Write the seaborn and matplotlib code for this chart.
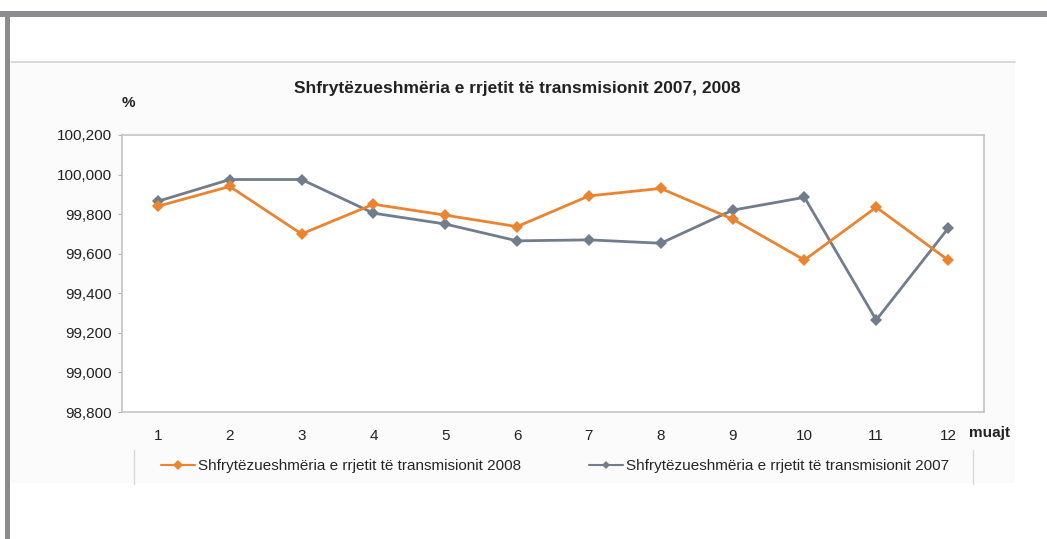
import matplotlib
matplotlib.use("Agg")
import matplotlib.pyplot as plt
import seaborn as sns
import pandas as pd
from matplotlib.patches import Rectangle
from matplotlib.lines import Line2D

months = [1, 2, 3, 4, 5, 6, 7, 8, 9, 10, 11, 12]
avail_2008 = [99.840, 99.940, 99.700, 99.850, 99.795, 99.737, 99.892, 99.930, 99.775, 99.568, 99.835, 99.568]
avail_2007 = [99.865, 99.975, 99.975, 99.805, 99.750, 99.665, 99.670, 99.653, 99.820, 99.885, 99.265, 99.728]
y_ticks = [98.8, 99.0, 99.2, 99.4, 99.6, 99.8, 100.0, 100.2]
y_tick_labels = ["98,800", "99,000", "99,200", "99,400", "99,600", "99,800", "100,000", "100,200"]
label_2008 = "Shfrytëzueshmëria e rrjetit të transmisionit 2008"
label_2007 = "Shfrytëzueshmëria e rrjetit të transmisionit 2007"
title = "Shfrytëzueshmëria e rrjetit të transmisionit 2007, 2008"

sns.set_theme(style="white")
plt.rcParams['font.family'] = ['Liberation Sans', 'DejaVu Sans']

W, H = 1047, 539
fig = plt.figure(figsize=(W / 100, H / 100), dpi=100)
fig.patch.set_facecolor("white")

def fx(px):
    return px / W

def fy(py):
    return 1 - py / H

# Frame decorations
fig.patches.append(Rectangle((fx(11), fy(483)), fx(1015 - 11), (483 - 62) / H,
                             transform=fig.transFigure, facecolor="#fbfbfb", edgecolor="none", zorder=-5))
fig.patches.append(Rectangle((0, fy(17)), 1, 6 / H, transform=fig.transFigure,
                             facecolor="#8c8c8e", edgecolor="none", zorder=-4))
fig.patches.append(Rectangle((fx(5), 0), 5 / W, fy(11), transform=fig.transFigure,
                             facecolor="#8c8c8e", edgecolor="none", zorder=-4))
fig.lines.append(Line2D([fx(11), fx(1015)], [fy(62), fy(62)], transform=fig.transFigure,
                        color="#d4d4d4", lw=1.2, zorder=-4))
for xp in (134, 973):
    fig.lines.append(Line2D([fx(xp), fx(xp)], [fy(450), fy(484)], transform=fig.transFigure,
                            color="#d8d8d8", lw=1, zorder=-4))

ax = fig.add_axes([fx(122), fy(412), fx(984 - 122), (412 - 135) / H])
ax.set_zorder(2)
ax.set_facecolor("white")

df = pd.DataFrame({
    "muaji": months * 2,
    "vlera": avail_2007 + avail_2008,
    "seria": [label_2007] * 12 + [label_2008] * 12,
})
palette = {label_2008: "#ea8430", label_2007: "#717c8c"}
sns.lineplot(data=df, x="muaji", y="vlera", hue="seria", style="seria",
             markers={label_2008: "D", label_2007: "D"}, dashes=False,
             palette=palette, markersize=6.5, linewidth=2, markeredgewidth=0,
             ax=ax, legend=False, hue_order=[label_2007, label_2008])

ax.set_xlim(0.5, 12.5)
ax.set_ylim(98.8, 100.2)
ax.set_xticks(months)
ax.set_xticklabels([str(m) for m in months], fontsize=11, color="#222222")
ax.set_yticks(y_ticks)
ax.set_yticklabels(y_tick_labels, fontsize=11, color="#222222")
ax.tick_params(axis="x", length=0, pad=12)
ax.tick_params(axis="y", length=3, width=0.8, color="#b0b0b0", left=True, pad=4)
ax.set_xlabel("")
ax.set_ylabel("")
for s in ax.spines.values():
    s.set_color("#c4c4c4")
    s.set_linewidth(1.2)

fig.text(fx(517), fy(88), title, ha="center", va="center", fontsize=12.5, fontweight="bold", color="#222222")
fig.text(fx(128), fy(103), "%", ha="center", va="center", fontsize=11, fontweight="bold", color="#222222")
fig.text(fx(990), fy(433), "muajt", ha="center", va="center", fontsize=11, fontweight="bold", color="#222222")

handles = [
    Line2D([], [], color=palette[label_2008], marker="D", markersize=5, lw=1.5, markeredgewidth=0),
    Line2D([], [], color=palette[label_2007], marker="D", markersize=4, lw=1.5, markeredgewidth=0),
]
fig.legend(handles, [label_2008, label_2007], ncol=2, loc="center",
           bbox_to_anchor=(fx(555), fy(466)), frameon=False, fontsize=11,
           handlelength=2.2, handletextpad=0.2, columnspacing=4.5)

fig.savefig("out.png", dpi=100)
